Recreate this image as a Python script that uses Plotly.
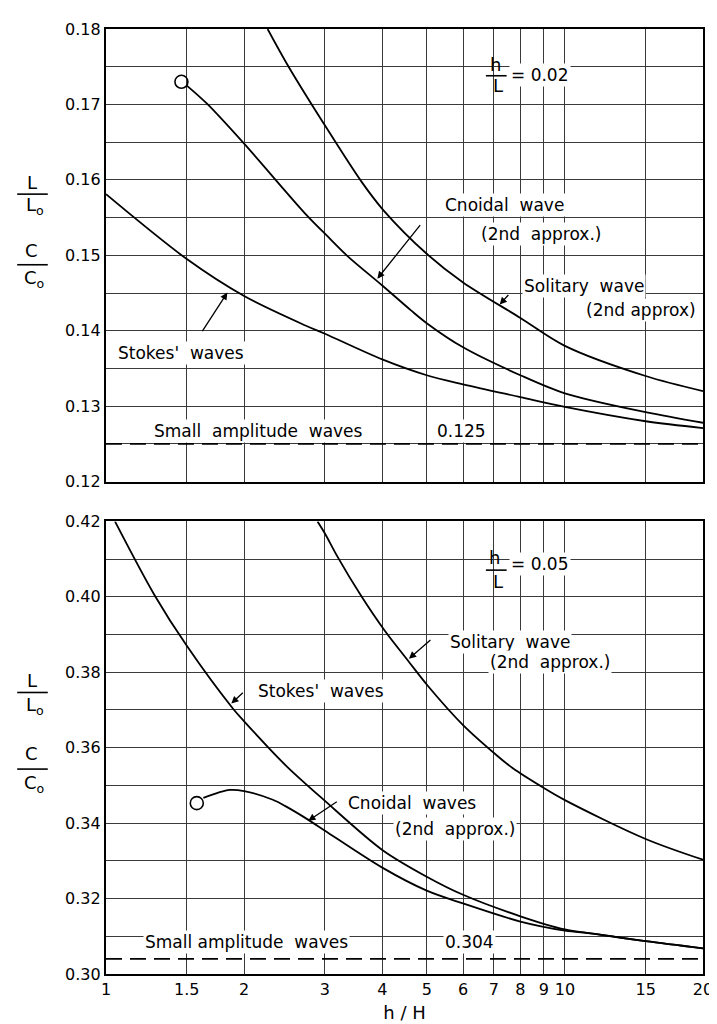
import numpy as np
import plotly.graph_objects as go

# ---------------- data ----------------
x_ticks = [1, 1.5, 2, 3, 4, 5, 6, 7, 8, 9, 10, 15, 20]
x_tick_labels = ["1", "1.5", "2", "3", "4", "5", "6", "7", "8", "9", "10", "15", "20"]

# Top panel: h/L = 0.02
top_stokes_x = [1.0, 1.5, 2.0, 2.72, 3.0, 4.0, 5.0, 6.0, 8.0, 10.0, 15.0, 20.0]
top_stokes_y = [0.1581, 0.1495, 0.1446, 0.1407, 0.1396, 0.1362, 0.1341, 0.1329, 0.1312, 0.1299, 0.1280, 0.1271]

top_cnoidal_x = [1.5, 1.66, 2.0, 2.72, 3.03, 3.36, 4.0, 4.62, 5.0, 6.0, 8.0, 10.0, 15.0, 20.0]
top_cnoidal_y = [0.1725, 0.1701, 0.1648, 0.1555, 0.1526, 0.1499, 0.1460, 0.1427, 0.1410, 0.1378, 0.1341, 0.1317, 0.1292, 0.1278]
top_cnoidal_end_x = [1.46]
top_cnoidal_end_y = [0.1730]

top_solitary_x = [2.25, 2.5, 3.03, 3.6, 4.02, 5.0, 6.0, 8.0, 10.0, 15.0, 20.0]
top_solitary_y = [0.1800, 0.1750, 0.1668, 0.1598, 0.1560, 0.1502, 0.1464, 0.1417, 0.1380, 0.1340, 0.1320]

top_small_amp = 0.125

# Bottom panel: h/L = 0.05
bot_stokes_x = [1.046, 1.275, 1.5, 1.89, 2.0, 2.46, 3.0, 4.0, 5.0, 6.0, 8.0, 10.0, 11.5, 15.0, 20.0]
bot_stokes_y = [0.420, 0.4005, 0.387, 0.3704, 0.367, 0.3554, 0.3459, 0.3329, 0.3258, 0.3210, 0.3153, 0.3118, 0.3107, 0.3087, 0.3068]

bot_cnoidal_x = [1.63, 1.86, 2.0, 2.31, 2.46, 2.75, 3.0, 4.0, 5.0, 6.0, 8.0, 10.0, 11.5, 15.0, 20.0]
bot_cnoidal_y = [0.3467, 0.3488, 0.3485, 0.3462, 0.3445, 0.3410, 0.3380, 0.3282, 0.3221, 0.3187, 0.3139, 0.3115, 0.3107, 0.3087, 0.3068]
bot_cnoidal_end_x = [1.577]
bot_cnoidal_end_y = [0.3453]

bot_solitary_x = [2.89, 3.0, 3.19, 3.6, 4.04, 4.57, 5.02, 6.0, 7.07, 7.69, 9.0, 10.0, 15.0, 20.0]
bot_solitary_y = [0.420, 0.4168, 0.4108, 0.4002, 0.3912, 0.3828, 0.3765, 0.3660, 0.3582, 0.3546, 0.3493, 0.3461, 0.3358, 0.3303]

bot_small_amp = 0.304

# ---------------- figure ----------------
FONT = "DejaVu Sans"
LW = 1.8
fig = go.Figure()

def curve(x, y, xa, ya):
    fig.add_trace(go.Scatter(x=x, y=y, mode="lines", line=dict(color="black", width=LW, shape="spline", smoothing=0.9),
                             xaxis=xa, yaxis=ya, showlegend=False, hoverinfo="skip"))

def endpoint(x, y, xa, ya):
    fig.add_trace(go.Scatter(x=x, y=y, mode="markers",
                             marker=dict(symbol="circle-open", size=13, color="black", line=dict(width=1.6)),
                             xaxis=xa, yaxis=ya, showlegend=False, hoverinfo="skip"))

def small_amp(val, xa, ya):
    fig.add_trace(go.Scatter(x=[x_ticks[0], x_ticks[-1]], y=[val, val], mode="lines",
                             line=dict(color="black", width=1.6, dash="16px,8px"),
                             xaxis=xa, yaxis=ya, showlegend=False, hoverinfo="skip"))

curve(top_stokes_x, top_stokes_y, "x", "y")
curve(top_cnoidal_x, top_cnoidal_y, "x", "y")
endpoint(top_cnoidal_end_x, top_cnoidal_end_y, "x", "y")
curve(top_solitary_x, top_solitary_y, "x", "y")
small_amp(top_small_amp, "x", "y")

curve(bot_stokes_x, bot_stokes_y, "x2", "y2")
curve(bot_cnoidal_x, bot_cnoidal_y, "x2", "y2")
endpoint(bot_cnoidal_end_x, bot_cnoidal_end_y, "x2", "y2")
curve(bot_solitary_x, bot_solitary_y, "x2", "y2")
small_amp(bot_small_amp, "x2", "y2")

GRID = "#3a3a3a"
xcommon = dict(type="log", range=[0, np.log10(20)], tickvals=x_ticks, ticktext=x_tick_labels,
               showgrid=True, gridcolor=GRID, gridwidth=1, zeroline=False,
               showline=True, linecolor="black", linewidth=2.2, mirror=True, ticks="")
ycommon = dict(showgrid=True, gridcolor=GRID, gridwidth=1, zeroline=False,
               showline=True, linecolor="black", linewidth=2.2, mirror=True, ticks="",
               tickformat=".2f", tickfont=dict(size=16, family=FONT, color="black"))

# plot area: left 98, right 703, top 17, bottom 967 (px)
L, R, T, B = 98, 703, 17, 967
W_, H_ = R - L, B - T
def px(x):
    return (x - L) / W_
def py(y):
    return (B - y) / H_

fig.update_layout(
    width=717, height=1024,
    margin=dict(l=L, r=717 - R, t=T, b=1024 - B),
    paper_bgcolor="white", plot_bgcolor="white",
    font=dict(family=FONT, color="black", size=16),
    xaxis=dict(**xcommon, anchor="y", showticklabels=False),
    yaxis=dict(**ycommon, domain=[py(472), 1.0], range=[0.12, 0.18], dtick=0.01, tick0=0.12,
               minor=dict(dtick=0.005, tick0=0.12, showgrid=True, gridcolor=GRID, gridwidth=1)),
    xaxis2=dict(**xcommon, anchor="y2", showticklabels=True,
                tickfont=dict(size=16, family=FONT, color="black"),
                title=dict(text="h / H", font=dict(size=18, family=FONT), standoff=8)),
    yaxis2=dict(**ycommon, domain=[0.0, py(512)], range=[0.30, 0.42], dtick=0.02, tick0=0.30,
                minor=dict(dtick=0.01, tick0=0.30, showgrid=True, gridcolor=GRID, gridwidth=1)),
)

ann = []
shapes = []
def text(t, x, y, size=17, anchor="left"):
    ann.append(dict(text=t, x=px(x), y=py(y), xref="paper", yref="paper", showarrow=False,
                    xanchor=anchor, yanchor="middle", font=dict(size=size, family=FONT, color="black"),
                    bgcolor="white"))
def text_nobg(t, x, y, size=17, anchor="center"):
    ann.append(dict(text=t, x=px(x), y=py(y), xref="paper", yref="paper", showarrow=False,
                    xanchor=anchor, yanchor="middle", font=dict(size=size, family=FONT, color="black")))
def arrow(tail, head):
    ann.append(dict(text="", x=px(head[0]), y=py(head[1]), xref="paper", yref="paper", showarrow=True,
                    ax=tail[0] - head[0], ay=tail[1] - head[1], arrowhead=2, arrowsize=1.1,
                    arrowwidth=1.3, arrowcolor="black", standoff=0, startstandoff=0))
def hline(x0, x1, y, w=1.6):
    shapes.append(dict(type="line", xref="paper", yref="paper", x0=px(x0), x1=px(x1), y0=py(y), y1=py(y),
                       line=dict(color="black", width=w)))

# --- top panel labels ---
text_nobg("h", 493, 53, 18)
hline(483, 504, 64)
text_nobg("L", 495, 74, 18)
text("= 0.02", 506, 63, 17)
text("Cnoidal  wave", 440, 194)
text("(2nd  approx.)", 476, 223)
text("Solitary  wave", 520, 275)
text("(2nd approx)", 582, 299, anchor="left")
text("Stokes'  waves", 108, 343)
text("Small  amplitude  waves", 145, 421)
text("0.125", 431, 421)
arrow((417, 213), (373, 268))
arrow((507, 283), (497, 294))
arrow((195, 322), (221, 282))

# --- bottom panel labels ---
text_nobg("h", 492, 548, 18)
hline(483, 504, 561)
text_nobg("L", 495, 572, 18)
text("= 0.05", 506, 555, 17)
text("Solitary  wave", 445, 633)
text("(2nd  approx.)", 485, 653)
text("Stokes'  waves", 250, 683)
text("Cnoidal  waves", 341, 795)
text("(2nd  approx.)", 389, 821)
text("Small amplitude  waves", 136, 935)
text("0.304", 440, 935)
arrow((428, 630), (405, 650))
arrow((238, 683), (225, 695))
arrow((333, 793), (303, 813))

# --- y-axis fraction titles ---
for (yl, yline, ylo, yc, ycline, yco) in [(171, 183, 195, 240, 254, 268), (672, 684, 698, 745, 761, 776)]:
    text_nobg("L", 23, yl, 18)
    hline(8, 39, yline, 1.6)
    text_nobg("L<sub>o</sub>", 26, ylo, 18)
    text_nobg("C", 23, yc, 18)
    hline(8, 39, ycline, 1.6)
    text_nobg("C<sub>o</sub>", 26, yco, 18)

fig.update_layout(annotations=ann, shapes=shapes)
fig.write_html("out.html")
